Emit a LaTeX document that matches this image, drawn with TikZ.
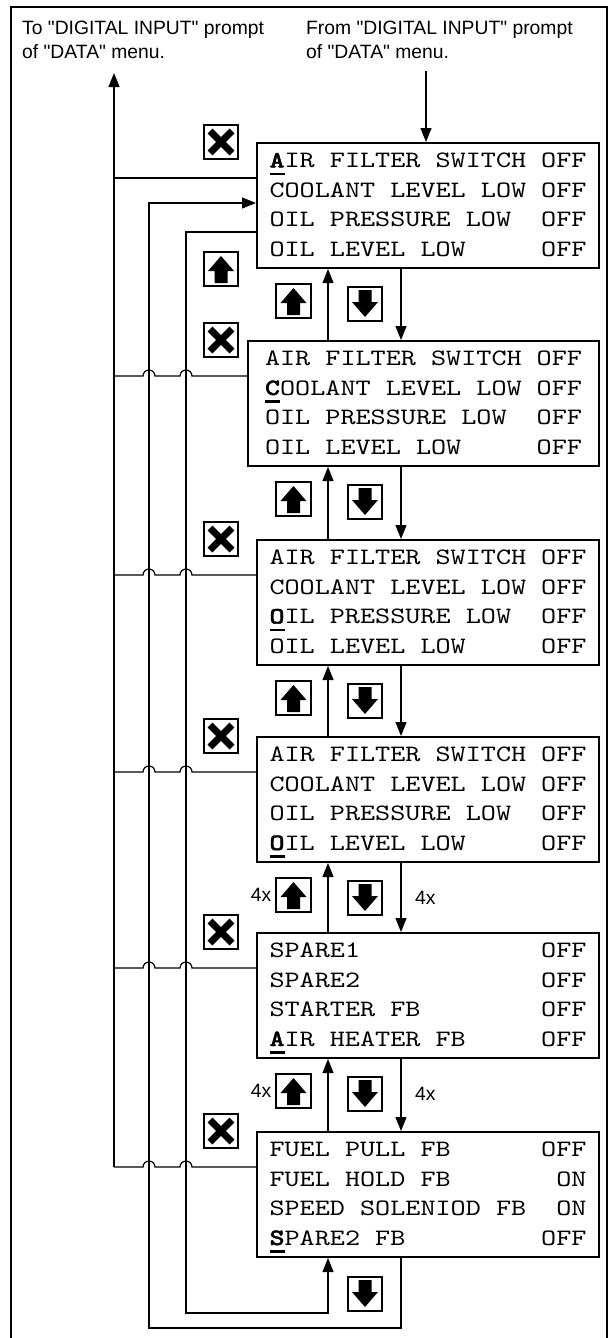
\documentclass[tikz,border=0pt]{standalone}
\usepackage{fontspec}
\setmainfont{Liberation Sans}[Ligatures=TeXOff]
\setmonofont{lmmono10-regular.otf}[BoldFont=lmmonolt10-bold.otf,BoldFeatures={FakeBold=1.5},FakeStretch=1.224]
\usetikzlibrary{positioning,arrows.meta,calc}
\newcommand{\cur}[1]{\rlap{\rule[-7.5pt]{15.1pt}{2.5pt}}\textbf{#1}}
\newcommand{\mrow}[2]{\hbox to 317pt{\rule[-8.5pt]{0pt}{29.5pt}#1\hfill#2}}

\begin{document}
\begin{tikzpicture}[x=1pt,y=-1pt,
  >={Triangle[length=14pt,width=11pt]},
  wire/.style={line width=1.2pt},
  menu/.style={draw,line width=2pt,minimum width=342pt,minimum height=125pt,inner sep=0pt,
    font=\ttfamily\fontsize{23.5}{29.5}\selectfont},
  note/.style={font=\fontsize{19.3}{24}\selectfont,align=left,inner sep=0pt},
  keyframe/.style={draw,line width=1.8pt,minimum size=34.5pt,inner sep=0pt},
  upkey/.pic={\node[keyframe] (-f) {};
    \fill (0,-13) -- (13,2) -- (6.5,2) -- (6.5,14) -- (-6.5,14) -- (-6.5,2) -- (-13,2) -- cycle;},
  downkey/.pic={\node[keyframe] (-f) {};
    \fill (0,13) -- (13,-2) -- (6.5,-2) -- (6.5,-14) -- (-6.5,-14) -- (-6.5,-2) -- (-13,-2) -- cycle;},
  esckey/.pic={\node[keyframe] (-f) {};
    \draw[line width=7pt] (-11,-11) -- (11,11) (-11,11) -- (11,-11);}]
\useasboundingbox (0,0) rectangle (610,1338);
\draw[line width=1.6pt] (11,1345) |- (607,7) -- (607,1345);

% texts on top
\node[note,anchor=north west] (toTxt) at (22,21) {To "DIGITAL INPUT" prompt\\of "DATA" menu.};
\node[note,anchor=north west] (fromTxt) at (306,21) {From "DIGITAL INPUT" prompt\\of "DATA" menu.};

% menu screens
\node[menu] (m1) at (428,205.5) {\vbox{\mrow{\cur{A}IR FILTER SWITCH}{OFF}\mrow{COOLANT LEVEL LOW}{OFF}\mrow{OIL PRESSURE LOW}{OFF}\mrow{OIL LEVEL LOW}{OFF}}};
\node[menu,minimum width=351pt] (m2) at (423.5,403.5) {\vbox{\mrow{AIR FILTER SWITCH}{OFF}\mrow{\cur{C}OOLANT LEVEL LOW}{OFF}\mrow{OIL PRESSURE LOW}{OFF}\mrow{OIL LEVEL LOW}{OFF}}};
\node[menu] (m3) at (428,602.5) {\vbox{\mrow{AIR FILTER SWITCH}{OFF}\mrow{COOLANT LEVEL LOW}{OFF}\mrow{\cur{O}IL PRESSURE LOW}{OFF}\mrow{OIL LEVEL LOW}{OFF}}};
\node[menu] (m4) at (428,799.5) {\vbox{\mrow{AIR FILTER SWITCH}{OFF}\mrow{COOLANT LEVEL LOW}{OFF}\mrow{OIL PRESSURE LOW}{OFF}\mrow{\cur{O}IL LEVEL LOW}{OFF}}};
\node[menu] (m5) at (428,995.5) {\vbox{\mrow{SPARE1}{OFF}\mrow{SPARE2}{OFF}\mrow{STARTER FB}{OFF}\mrow{\cur{A}IR HEATER FB}{OFF}}};
\node[menu] (m6) at (428,1194.5) {\vbox{\mrow{FUEL PULL FB}{OFF}\mrow{FUEL HOLD FB}{ON}\mrow{SPEED SOLENIOD FB}{ON}\mrow{\cur{S}PARE2 FB}{OFF}}};

% columns
\coordinate (toData) at (114,73);
\coordinate (fromData) at (426,71);
\coordinate (dnCorner) at (149,1328);
\coordinate (upCorner) at (186,1313);
\coordinate (keycol) at (221,0);
\coordinate (upcol) at (328,0);
\coordinate (dncol) at (401,0);
\coordinate (j1) at ([yshift=-36pt]m1.north west);
\coordinate (j2) at ([yshift=-36pt]m2.north west);
\coordinate (j3) at ([yshift=-36pt]m3.north west);
\coordinate (j4) at ([yshift=-36pt]m4.north west);
\coordinate (j5) at ([yshift=-36pt]m5.north west);
\coordinate (j6) at ([yshift=-36pt]m6.north west);

% keys
\pic (x1) at (m1.north -| keycol) {esckey};
\pic (x2) at (m2.north -| keycol) {esckey};
\pic (x3) at (m3.north -| keycol) {esckey};
\pic (x4) at (m4.north -| keycol) {esckey};
\pic (x5) at (m5.north -| keycol) {esckey};
\pic (x6) at (m6.north -| keycol) {esckey};
\pic (u0) at (m1.south -| keycol) {upkey};
\pic (u1) at ([yshift=-32pt]m1.south -| 293.5,0) {upkey};
\pic (u2) at ([yshift=-32pt]m2.south -| 293.5,0) {upkey};
\pic (u3) at ([yshift=-32pt]m3.south -| 293.5,0) {upkey};
\pic (u4) at ([yshift=-32pt]m4.south -| 293.5,0) {upkey};
\pic (u5) at ([yshift=-32pt]m5.south -| 293.5,0) {upkey};
\pic (d1) at ([yshift=-35pt]m1.south -| 365,0) {downkey};
\pic (d2) at ([yshift=-35pt]m2.south -| 365,0) {downkey};
\pic (d3) at ([yshift=-35pt]m3.south -| 365,0) {downkey};
\pic (d4) at ([yshift=-35pt]m4.south -| 365,0) {downkey};
\pic (d5) at ([yshift=-35pt]m5.south -| 365,0) {downkey};
\pic (d6) at ([yshift=-36pt]m6.south -| 365,0) {downkey};
\node[note,left=4pt of u4-f] (n4a) {4x};
\node[note,left=4pt of u5-f] (n5a) {4x};
\node[note,anchor=west] (n4b) at ([yshift=-35pt]m4.south -| 415,0) {4x};
\node[note,anchor=west] (n5b) at ([yshift=-35pt]m5.south -| 415,0) {4x};

% up / down between screens
\draw[wire,->] (fromData) -- (fromData |- m1.north);
\draw[wire,->] (m2.north -| upcol) -- (m1.south -| upcol);
\draw[wire,->] (m1.south -| dncol) -- (m2.north -| dncol);
\draw[wire,->] (m3.north -| upcol) -- (m2.south -| upcol);
\draw[wire,->] (m2.south -| dncol) -- (m3.north -| dncol);
\draw[wire,->] (m4.north -| upcol) -- (m3.south -| upcol);
\draw[wire,->] (m3.south -| dncol) -- (m4.north -| dncol);
\draw[wire,->] (m5.north -| upcol) -- (m4.south -| upcol);
\draw[wire,->] (m4.south -| dncol) -- (m5.north -| dncol);
\draw[wire,->] (m6.north -| upcol) -- (m5.south -| upcol);
\draw[wire,->] (m5.south -| dncol) -- (m6.north -| dncol);

% wrap around
\draw[wire,->] (m6.south -| dncol) |- (dnCorner) |- ([yshift=-61pt]m1.north west);
\draw[wire,->] ([yshift=-90pt]m1.north west) -| (upCorner) -| (m6.south -| upcol);

% escape rail
\draw[wire,->] (j6 -| toData) -- (toData);
\draw[wire] (j1 -| toData) -- (j1);
\draw[wire] (j2 -| toData) -- ([xshift=-6pt]j2 -| dnCorner) arc[start angle=180,end angle=0,radius=6pt]
  -- ([xshift=-6pt]j2 -| upCorner) arc[start angle=180,end angle=0,radius=6pt] -- (j2);
\draw[wire] (j3 -| toData) -- ([xshift=-6pt]j3 -| dnCorner) arc[start angle=180,end angle=0,radius=6pt]
  -- ([xshift=-6pt]j3 -| upCorner) arc[start angle=180,end angle=0,radius=6pt] -- (j3);
\draw[wire] (j4 -| toData) -- ([xshift=-6pt]j4 -| dnCorner) arc[start angle=180,end angle=0,radius=6pt]
  -- ([xshift=-6pt]j4 -| upCorner) arc[start angle=180,end angle=0,radius=6pt] -- (j4);
\draw[wire] (j5 -| toData) -- ([xshift=-6pt]j5 -| dnCorner) arc[start angle=180,end angle=0,radius=6pt]
  -- ([xshift=-6pt]j5 -| upCorner) arc[start angle=180,end angle=0,radius=6pt] -- (j5);
\draw[wire] (j6 -| toData) -- ([xshift=-6pt]j6 -| dnCorner) arc[start angle=180,end angle=0,radius=6pt]
  -- ([xshift=-6pt]j6 -| upCorner) arc[start angle=180,end angle=0,radius=6pt] -- (j6);
\end{tikzpicture}
\end{document}
